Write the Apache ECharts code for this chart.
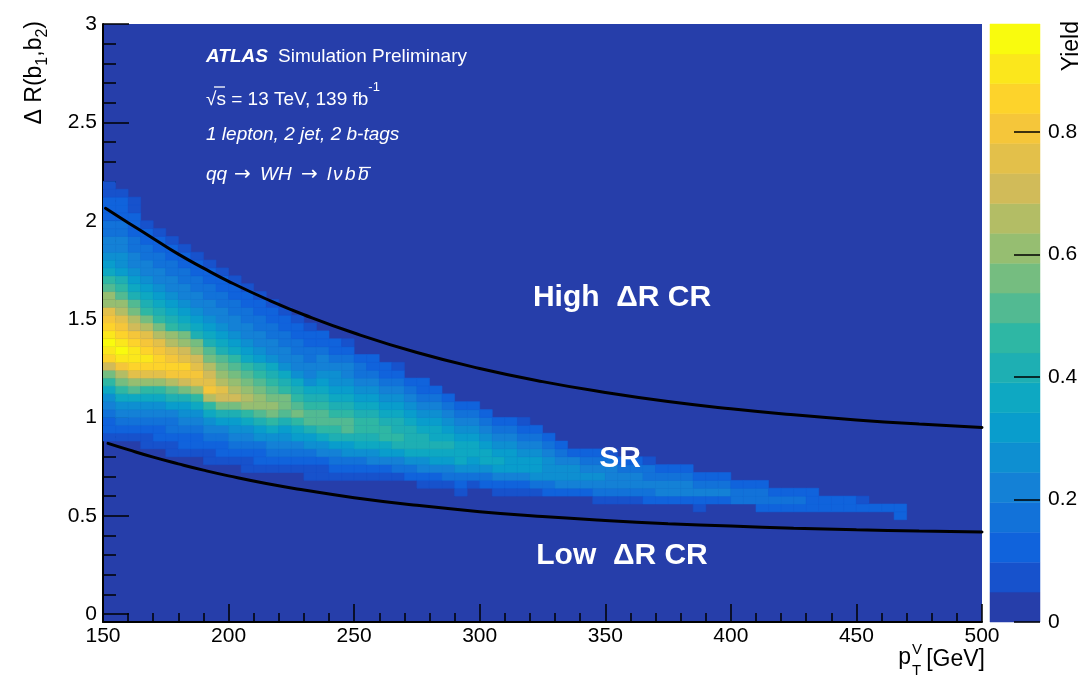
<!DOCTYPE html>
<html>
<head>
<meta charset="utf-8">
<script src="https://cdn.jsdelivr.net/npm/echarts@6.0.0/dist/echarts.min.js"></script>
<style>
  html, body { margin: 0; padding: 0; background: #ffffff; }
  #chart { width: 1082px; height: 675px; }
</style>
</head>
<body>
<div id="chart"></div>
<script>
// ---- data --------------------------------------------------------------
// lower edges of the pT^V bins [GeV]
const ptBins = [150,155,160,165,170,175,180,185,190,195,200,205,210,215,220,225,
  230,235,240,245,250,255,260,265,270,275,280,285,290,295,300,305,310,315,320,325,
  330,335,340,345,350,355,360,365,370,375,380,385,390,395,400,405,410,415,420,425,
  430,435,440,445,450,455,460,465];
const ptBinWidth = 5;
const drBinWidth = 0.04;

// lower ΔR edge of the first filled bin in every pT column
const drStart = [0.88,0.88,0.88,0.84,0.84,0.80,0.80,0.80,0.76,0.76,0.76,
  0.72,0.72,0.72,0.72,0.72,0.68,0.68,0.68,0.68,0.68,0.68,0.68,0.68,0.68,
  0.64,0.64,0.64,0.60,0.64,0.64,0.60,0.60,0.60,0.60,0.60,0.60,0.60,0.60,
  0.56,0.56,0.56,0.56,0.56,0.56,0.56,0.56,0.52,0.56,0.56,0.56,0.56,
  0.52,0.52,0.52,0.52,0.52,0.52,0.52,0.52,0.52,0.52,0.52,0.48];

// yield of each filled bin, per pT column, going up in ΔR from drStart
const yields = [
  [.07,.12,.12,.17,.22,.27,.37,.47,.56,.71,.86,.91,.95,.91,.86,.81,.76,.61,.61,.51,.47,.37,.32,.27,.22,.22,.17,.17,.12,.12,.12,.07,.07],
  [.07,.12,.17,.22,.27,.37,.47,.56,.66,.81,.91,.95,.91,.86,.81,.76,.66,.61,.51,.47,.42,.32,.27,.27,.22,.22,.17,.17,.12,.12,.12,.07],
  [.07,.12,.17,.22,.27,.37,.51,.61,.76,.86,.91,.91,.86,.81,.71,.66,.56,.51,.42,.37,.32,.27,.22,.22,.17,.17,.12,.12,.12,.07,.07],
  [.07,.07,.12,.17,.22,.27,.37,.47,.61,.76,.86,.91,.86,.81,.76,.66,.56,.47,.42,.37,.32,.27,.22,.22,.17,.17,.12,.12,.07],
  [.07,.12,.12,.17,.22,.27,.37,.47,.61,.76,.86,.86,.81,.76,.66,.56,.47,.42,.37,.32,.27,.22,.22,.17,.17,.12,.12,.07],
  [.07,.07,.12,.17,.17,.22,.32,.42,.51,.66,.81,.86,.81,.76,.66,.61,.47,.42,.37,.32,.27,.22,.22,.17,.17,.12,.12,.07],
  [.07,.12,.12,.17,.22,.27,.32,.42,.56,.71,.81,.86,.76,.71,.61,.56,.42,.37,.32,.27,.22,.22,.17,.17,.12,.12,.07],
  [.07,.12,.12,.17,.22,.27,.37,.47,.61,.76,.81,.76,.71,.61,.56,.42,.37,.32,.27,.22,.22,.17,.17,.12,.12,.07],
  [.07,.07,.12,.17,.22,.27,.37,.47,.66,.81,.76,.71,.66,.56,.51,.42,.37,.32,.27,.22,.22,.17,.17,.12,.12,.07],
  [.07,.12,.12,.17,.22,.32,.42,.56,.71,.76,.66,.61,.56,.51,.42,.37,.32,.27,.22,.22,.17,.17,.12,.12,.07],
  [.07,.12,.17,.22,.27,.32,.42,.56,.71,.66,.61,.56,.51,.47,.37,.32,.27,.22,.22,.17,.17,.12,.12,.07],
  [.07,.07,.12,.17,.22,.27,.37,.47,.61,.66,.61,.56,.51,.47,.37,.32,.27,.22,.22,.17,.17,.12,.12,.07],
  [.07,.12,.12,.17,.27,.32,.42,.51,.61,.61,.56,.51,.47,.42,.32,.27,.22,.22,.17,.17,.12,.12,.07],
  [.07,.12,.17,.22,.27,.37,.47,.56,.61,.56,.51,.47,.42,.37,.27,.22,.22,.17,.17,.12,.12,.07],
  [.07,.12,.17,.22,.27,.32,.42,.51,.56,.56,.47,.42,.37,.27,.22,.22,.17,.17,.12,.12,.07],
  [.07,.12,.17,.22,.32,.37,.47,.56,.51,.47,.42,.37,.27,.22,.22,.17,.17,.12,.12,.07],
  [.07,.07,.12,.17,.27,.32,.42,.51,.51,.47,.42,.37,.27,.22,.22,.17,.17,.12,.12,.07],
  [.07,.07,.12,.22,.27,.37,.47,.51,.51,.47,.42,.37,.32,.27,.22,.22,.17,.12,.12],
  [.07,.12,.17,.22,.32,.42,.47,.51,.47,.42,.37,.32,.27,.27,.22,.17,.12,.12],
  [.07,.12,.17,.27,.32,.42,.51,.51,.47,.42,.37,.32,.27,.22,.22,.17,.12,.07],
  [.07,.12,.17,.27,.37,.42,.47,.47,.42,.37,.32,.27,.22,.17,.17,.12],
  [.07,.12,.22,.27,.37,.42,.47,.47,.42,.37,.32,.27,.22,.17,.12,.12],
  [.07,.12,.22,.32,.37,.47,.47,.42,.37,.32,.27,.22,.17,.12,.12],
  [.07,.17,.22,.32,.42,.47,.42,.42,.37,.32,.27,.22,.17,.12,.07],
  [.12,.17,.27,.37,.42,.42,.42,.37,.32,.27,.22,.17,.12],
  [.07,.12,.22,.27,.37,.42,.42,.37,.32,.27,.22,.17,.12,.12],
  [.07,.12,.22,.32,.37,.42,.37,.37,.32,.27,.22,.17,.12],
  [.07,.17,.22,.32,.37,.42,.37,.32,.27,.22,.17,.12],
  [.07,.12,.17,.27,.37,.37,.37,.32,.27,.22,.17,.12],
  [.07,.17,.27,.32,.37,.37,.32,.27,.22,.17,.12],
  [.12,.17,.27,.37,.37,.32,.27,.22,.17,.12],
  [.07,.12,.22,.32,.37,.32,.27,.22,.17,.12],
  [.07,.12,.22,.32,.32,.32,.27,.22,.17,.12],
  [.07,.12,.22,.32,.32,.27,.22,.17,.12,.07],
  [.07,.17,.27,.32,.32,.27,.22,.17,.12],
  [.12,.17,.27,.27,.27,.22,.17,.12],
  [.12,.22,.27,.27,.22,.17,.12],
  [.12,.22,.27,.27,.22,.12],
  [.12,.22,.27,.22,.17,.12],
  [.07,.17,.22,.27,.22,.17,.12],
  [.07,.17,.22,.22,.22,.17,.07],
  [.07,.17,.22,.22,.17,.12],
  [.07,.17,.22,.22,.17,.12],
  [.12,.17,.22,.17,.17,.07],
  [.12,.22,.22,.17,.12],
  [.12,.22,.22,.17,.12],
  [.12,.22,.22,.17,.12],
  [.07,.12,.22,.17,.12],
  [.12,.22,.17,.12],
  [.12,.22,.17,.12],
  [.17,.17,.12],
  [.17,.17,.12],
  [.12,.17,.17,.12],
  [.12,.17,.12],
  [.12,.17,.12],
  [.12,.17,.12],
  [.12,.12,.12],
  [.12,.12],
  [.12,.12],
  [.12,.12],
  [.12,.07],
  [.12],
  [.12],
  [.12,.12]
];

// region boundaries in the (pT^V, ΔR) plane
const upperCut = [[151,2.063],[160,1.99],[170,1.91],[180,1.83],[190,1.759],[200,1.692],
  [215,1.602],[230,1.522],[250,1.429],[275,1.33],[300,1.249],[325,1.182],[350,1.127],
  [375,1.081],[400,1.044],[425,1.013],[450,0.987],[475,0.966],[500,0.949]];
const lowerCut = [[152,0.868],[160,0.836],[170,0.798],[180,0.764],[190,0.732],[200,0.703],
  [215,0.664],[230,0.631],[250,0.592],[275,0.553],[300,0.521],[325,0.496],[350,0.476],
  [375,0.46],[400,0.448],[425,0.437],[450,0.429],[475,0.423],[500,0.418]];

// colour scale: 20 equal bands from 0 to zMax
const zMax = 0.976;
const palette = ['#263EAA','#1752CC','#1063DC','#1272D9','#1481D6','#0E8FD1','#099DCC',
  '#0EA8C2','#1EAFB3','#2EB7A4','#52BA92','#75BD80','#96BE71','#B3BD65','#D1BB59',
  '#E3C04A','#F5C63A','#FDD32B','#FBE71C','#F9FB0E'];

// ---- build series data -------------------------------------------------
const cells = [];
ptBins.forEach((pt, k) => {
  yields[k].forEach((v, j) => {
    const lo = drStart[k] + j * drBinWidth;
    cells.push([pt, lo, pt + ptBinWidth, lo + drBinWidth, v]);
  });
});
const nBands = palette.length;
const bandStep = zMax / nBands;
const scaleBands = palette.map((c, i) => [0, i * bandStep, 1, (i + 1) * bandStep, (i + 0.5) * bandStep]);
const pieces = palette.map((c, i) => ({ gte: i * bandStep, lt: (i + 1) * bandStep + (i === nBands - 1 ? 1e-6 : 0), color: c }));

const FONT = '"Liberation Sans", Arial, Helvetica, sans-serif';
const ARROW_FONT = '"DejaVu Sans", sans-serif';

function rectItem(params, api) {
  const p0 = api.coord([api.value(0), api.value(1)]);
  const p1 = api.coord([api.value(2), api.value(3)]);
  const color = api.visual('color');
  return {
    type: 'rect',
    shape: { x: p0[0], y: p1[1], width: p1[0] - p0[0], height: p0[1] - p1[1] },
    style: { fill: color, stroke: color, lineWidth: 0.5 }
  };
}

const black = '#000000';
const white = '#ffffff';
function label(x, y, text, size, extra) {
  return Object.assign({ type: 'text', x: x, y: y, z: 100,
    style: Object.assign({ text: text, align: 'left', verticalAlign: 'middle', fontSize: size, fontFamily: FONT, fill: white }, extra || {}) });
}

const chart = echarts.init(document.getElementById('chart'), null, { renderer: 'canvas' });

const option = {
  animation: false,
  backgroundColor: '#ffffff',
  textStyle: { fontFamily: FONT },
  grid: [
    { left: 103, top: 24, width: 879, height: 598, show: true, backgroundColor: palette[0], borderWidth: 0, containLabel: false, outerBoundsMode: 'none' },
    { left: 990, top: 24, width: 50, height: 598, containLabel: false, outerBoundsMode: 'none' },
    { left: 103, top: 24, width: 879, height: 590.13, containLabel: false, outerBoundsMode: 'none' },
    { left: 990, top: 131.8, width: 50, height: 490.2, containLabel: false, outerBoundsMode: 'none' }
  ],
  xAxis: [
    {
      gridIndex: 0, type: 'value', min: 150, max: 500, interval: 50,
      axisLine: { show: true, onZero: false, lineStyle: { color: black, width: 2 } },
      axisTick: { show: true, inside: true, length: 18, lineStyle: { color: black, width: 1.5 } },
      minorTick: { show: true, splitNumber: 5, length: 9, lineStyle: { color: black, width: 1.5 } },
      axisLabel: { fontSize: 21, color: black, margin: 4, fontFamily: FONT },
      splitLine: { show: false }, minorSplitLine: { show: false }
    },
    { gridIndex: 1, type: 'value', min: 0, max: 1, show: false },
    { gridIndex: 2, type: 'value', min: 150, max: 500, show: false },
    { gridIndex: 3, type: 'value', min: 0, max: 1, show: false }
  ],
  yAxis: [
    {
      gridIndex: 0, type: 'value', min: -0.04, max: 3,
      axisLine: { show: true, onZero: false, lineStyle: { color: black, width: 2 } },
      axisTick: { show: false }, axisLabel: { show: false }, splitLine: { show: false }
    },
    { gridIndex: 1, type: 'value', min: 0, max: zMax, show: false },
    {
      gridIndex: 2, type: 'value', min: 0, max: 3, interval: 0.5,
      axisLine: { show: false },
      axisTick: { show: true, inside: true, length: 26, lineStyle: { color: black, width: 1.5 } },
      minorTick: { show: true, splitNumber: 5, length: 13, lineStyle: { color: black, width: 1.5 } },
      axisLabel: { fontSize: 21, color: black, margin: 6, fontFamily: FONT },
      splitLine: { show: false }, minorSplitLine: { show: false }
    },
    // colour-scale ticks, drawn from the right edge of the scale towards the left
    {
      gridIndex: 3, type: 'value', position: 'left', offset: -50, min: 0, max: 0.8, interval: 0.2, z: 10,
      axisLine: { show: false },
      axisTick: { show: true, inside: false, length: 26, lineStyle: { color: black, width: 1.5 } },
      axisLabel: { show: false }, splitLine: { show: false }
    },
    // colour-scale labels
    {
      gridIndex: 3, type: 'value', position: 'right', min: 0, max: 0.8, interval: 0.2,
      axisLine: { show: false }, axisTick: { show: false },
      axisLabel: { fontSize: 21, color: black, margin: 8, fontFamily: FONT },
      splitLine: { show: false }
    }
  ],
  visualMap: {
    type: 'piecewise', show: false, dimension: 4, seriesIndex: [0, 1], pieces: pieces
  },
  series: [
    {
      type: 'custom', name: 'yield', xAxisIndex: 0, yAxisIndex: 0,
      dimensions: ['pt0', 'dr0', 'pt1', 'dr1', 'yield'],
      encode: { x: [0, 2], y: [1, 3] },
      renderItem: rectItem, data: cells, clip: true, z: 1
    },
    {
      type: 'custom', name: 'scale', xAxisIndex: 1, yAxisIndex: 1,
      dimensions: ['a', 'lo', 'b', 'hi', 'mid'],
      encode: { x: [0, 2], y: [1, 3] },
      renderItem: rectItem, data: scaleBands, z: 1
    },
    {
      type: 'line', name: 'upper', xAxisIndex: 0, yAxisIndex: 0, data: upperCut,
      smooth: 0.5, symbol: 'none', lineStyle: { color: black, width: 3, cap: 'round' }, z: 5
    },
    {
      type: 'line', name: 'lower', xAxisIndex: 0, yAxisIndex: 0, data: lowerCut,
      smooth: 0.5, symbol: 'none', lineStyle: { color: black, width: 3, cap: 'round' }, z: 5
    }
  ],
  graphic: [
    // axis titles
    {
      type: 'text', x: 35, y: 21, rotation: Math.PI / 2, z: 100,
      style: {
        text: '{m|Δ R(b}{s|1}{m|,b}{s|2}{m|)}', align: 'right', verticalAlign: 'middle', fill: black,
        rich: {
          m: { fontSize: 23, lineHeight: 32, verticalAlign: 'middle', fontFamily: FONT },
          s: { fontSize: 16, lineHeight: 16, verticalAlign: 'bottom', fontFamily: FONT }
        }
      }
    },
    label(911, 658, 'p', 23, { align: 'right', fill: black }),
    label(912, 650, 'V', 15, { fill: black }),
    label(912, 671, 'T', 15, { fill: black }),
    label(985, 660, '[GeV]', 23, { align: 'right', fill: black }),
    {
      type: 'text', x: 1072, y: 21, rotation: Math.PI / 2, z: 100,
      style: { text: 'Yield', align: 'right', verticalAlign: 'middle', fontSize: 23, fontFamily: FONT, fill: black }
    },
    // labels on the plot
    label(206, 57, 'ATLAS', 19, { fontWeight: 'bold', fontStyle: 'italic' }),
    label(278, 57, 'Simulation Preliminary', 19),
    {
      type: 'text', x: 206, y: 95, z: 100,
      style: {
        text: '{n|√s = 13 TeV, 139 fb}{p|-1}', align: 'left', verticalAlign: 'middle', fill: white,
        rich: {
          n: { fontSize: 19, lineHeight: 28, verticalAlign: 'bottom', fontFamily: FONT },
          p: { fontSize: 13, lineHeight: 13, verticalAlign: 'top', fontFamily: FONT }
        }
      }
    },
    { type: 'line', z: 100, shape: { x1: 214, y1: 87, x2: 225, y2: 87 }, style: { stroke: white, lineWidth: 1.3 } },
    label(206, 135, '1 lepton, 2 jet, 2 b-tags', 19, { fontStyle: 'italic' }),
    label(206, 175, 'qq', 19, { fontStyle: 'italic' }),
    label(234, 175, '→', 20, { fontFamily: ARROW_FONT }),
    label(260, 175, 'WH', 19, { fontStyle: 'italic' }),
    label(301, 175, '→', 20, { fontFamily: ARROW_FONT }),
    label(327, 175, 'l', 19, { fontStyle: 'italic' }),
    label(333, 175, 'ν', 19, { fontStyle: 'italic' }),
    label(345, 175, 'b', 19, { fontStyle: 'italic' }),
    label(358, 175, 'b', 19, { fontStyle: 'italic' }),
    { type: 'line', z: 100, shape: { x1: 359, y1: 167.5, x2: 371, y2: 167.5 }, style: { stroke: white, lineWidth: 1.3 } },
    label(622, 298, 'High  ΔR CR', 30, { align: 'center', fontWeight: 'bold' }),
    label(620, 459, 'SR', 30, { align: 'center', fontWeight: 'bold' }),
    label(622, 556, 'Low  ΔR CR', 30, { align: 'center', fontWeight: 'bold' })
  ]
};

chart.setOption(option);
</script>
</body>
</html>
